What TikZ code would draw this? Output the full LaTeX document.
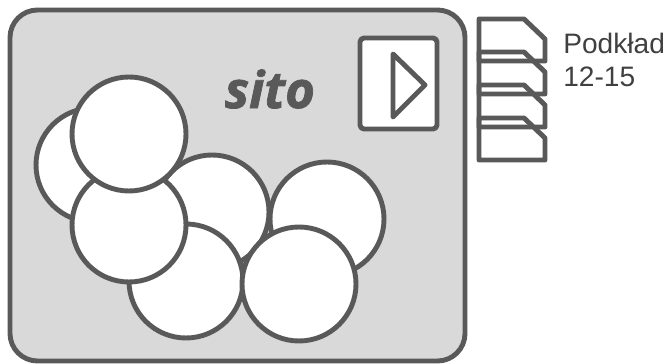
\documentclass[tikz,border=0pt]{standalone}
\usepackage{fontspec}
\setmainfont{Liberation Sans}
\newfontfamily\sitofont[BoldItalicFeatures={FakeBold=1.5}]{Open Sans}
\definecolor{linegray}{HTML}{595959}
\definecolor{panelgray}{HTML}{D9D9D9}
\tikzset{
    outline/.style={draw=linegray, line width=2.8pt, line join=round},
    disc/.style={outline, fill=white},
    sheet/.style={outline},
}
\begin{document}
\begin{tikzpicture}[x=.02cm, y=-.02cm]
    \useasboundingbox(0, 0)rectangle(669, 364);
    \draw[outline, fill=panelgray, rounded corners=.55cm](10, 10)rectangle(465, 361);
    \draw[disc, rounded corners=.08cm](360, 38)rectangle(437, 129);
    \draw[outline](393, 54)--(425, 85)--(393, 117)--cycle;
    \node[text=linegray, font=\sitofont\bfseries\itshape\fontsize{29}{33}\selectfont](sito)at(270, 89){sito};
    % back to front
    \foreach \x/\y in {327/219, 212/212, 186/281, 93/165, 129/225, 129/134, 299/284}
        \draw[disc](\x, \y)circle(57);
    \foreach \y in {19, 52, 85, 118}
        \draw[sheet](479, \y)--(524, \y)--(545, \y+20)--(545, \y+42)--(479, \y+42)--cycle;
    \node[anchor=north west, align=left, inner sep=0pt, text=black!75, font=\fontsize{16}{18.8}\selectfont](label)at(563, 33){Podkład\\12-15};
\end{tikzpicture}
\end{document}
